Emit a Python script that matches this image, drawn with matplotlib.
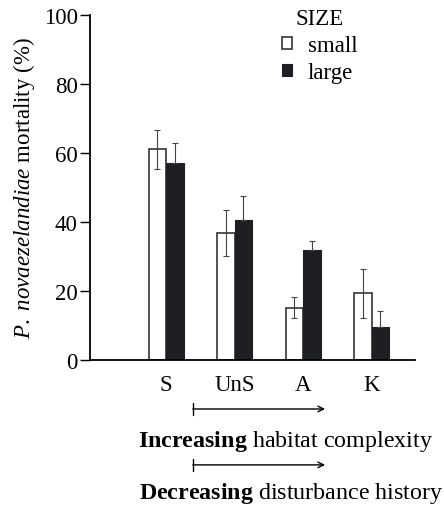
import matplotlib
matplotlib.use("Agg")
import matplotlib.pyplot as plt
import numpy as np

# values
sites = ["S", "UnS", "A", "K"]
small_mean = [61.0, 36.8, 15.2, 19.3]
small_err = [5.7, 6.8, 3.0, 7.0]
large_mean = [57.2, 40.6, 31.8, 9.6]
large_err = [5.6, 7.0, 2.6, 4.6]
y_ticks = [0, 20, 40, 60, 80, 100]

plt.rcParams["font.family"] = "Liberation Serif"
plt.rcParams["mathtext.fontset"] = "custom"
plt.rcParams["mathtext.rm"] = "Liberation Serif"
plt.rcParams["mathtext.it"] = "Liberation Serif:italic"
plt.rcParams["mathtext.bf"] = "Liberation Serif:bold"

fig = plt.figure(figsize=(4.44, 5.06), dpi=100)
ax = fig.add_axes([0.203, 0.2866, 0.732, 0.682])

x = np.arange(1, len(sites) + 1)
width = 0.255
dark = "#1e1f22"
err_kw = dict(ecolor="#444444", elinewidth=0.8, capsize=2.5, capthick=0.8)

ax.bar(x - width / 2, small_mean, width, color="white", edgecolor="#333333",
       linewidth=1.2, yerr=small_err, error_kw=err_kw, label="small", zorder=2)
# lower half of the black-bar errors is hidden inside the bar
large_yerr = [np.zeros(len(large_err)), large_err]
ax.bar(x + width / 2, large_mean, width, color=dark, edgecolor=dark,
       linewidth=0.8, yerr=large_yerr, error_kw=err_kw, label="large", zorder=2)

ax.set_xlim(-0.11, 4.635)
ax.set_ylim(0, 100)
ax.set_yticks(y_ticks)
ax.set_xticks(x)
ax.set_xticklabels(sites)
ax.tick_params(axis="x", length=0, pad=10, labelsize=16.5)
ax.tick_params(axis="y", direction="out", length=7, width=1, labelsize=16.5, pad=2)
for side in ["top", "right"]:
    ax.spines[side].set_visible(False)
for side in ["left", "bottom"]:
    ax.spines[side].set_linewidth(1.3)

ax.set_ylabel(r"$\it{P.}$ $\it{novaezelandiae}$ mortality (%)", fontsize=16.5, labelpad=5)

leg = ax.legend(title="SIZE", loc="upper right", bbox_to_anchor=(0.872, 1.065),
                frameon=False, fontsize=16.5, title_fontsize=16.5,
                handlelength=0.45, handleheight=0.45, handletextpad=0.7,
                labelspacing=0.25, borderpad=0.2)

# gradient arrows below the axis
arrow_start, arrow_end = 1.39, 3.32
for y_arrow in [-0.142, -0.304]:
    ax.annotate("", xy=(arrow_end, y_arrow), xytext=(arrow_start, y_arrow),
                xycoords=("data", "axes fraction"),
                textcoords=("data", "axes fraction"),
                arrowprops=dict(arrowstyle="]->, widthA=0.45, lengthA=0",
                                lw=1.0, color="black",
                                mutation_scale=10, shrinkA=0, shrinkB=0),
                annotation_clip=False)

fig.text(0.644, 1 - 442 / 506, r"$\bf{Increasing}$ habitat complexity",
         ha="center", va="center", fontsize=17.3)
fig.text(0.655, 1 - 494 / 506, r"$\bf{Decreasing}$ disturbance history",
         ha="center", va="center", fontsize=17.3)

fig.savefig("out.png", dpi=100)
